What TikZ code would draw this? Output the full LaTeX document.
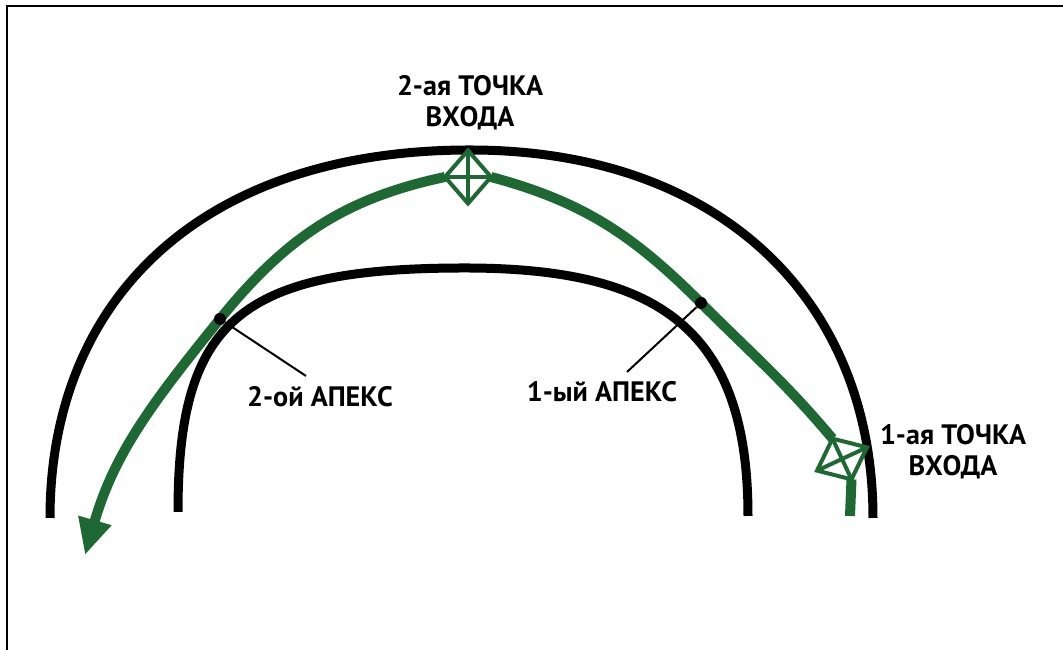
\documentclass[tikz,border=0pt]{standalone}
\usepackage{fontspec}
\setmainfont{PT Sans}
\usetikzlibrary{shapes.geometric,arrows.meta}
\definecolor{linegreen}{RGB}{30,104,52}

\begin{document}
\begin{tikzpicture}[font=\bfseries\fontsize{16}{17.5}\selectfont]
%% the picture is drawn in cm, one pixel of the sketch is 0.02 cm
%% the bends of the green line can be tuned with out=XX and in=XX
\tikzstyle{track}=[line width=0.18cm]
\tikzstyle{racing}=[draw=linegreen,line width=0.2cm]
\tikzstyle{entry}=[diamond,draw=linegreen,line width=0.08cm,inner sep=0pt,outer sep=0pt]
\tikzstyle{cross}=[draw=linegreen,line width=0.08cm]
\tikzstyle{apex}=[circle,fill=black,inner sep=0pt,minimum size=0.24cm]
\tikzstyle{leader}=[line width=0.04cm]
\tikzstyle{caption}=[align=center]
\useasboundingbox (0,0) rectangle (21.26,13);
%% frame, only its top and left sides fall inside the picture
\draw[line width=0.05cm] (0.14,0) -- (0.14,12.88) -- (21.26,12.88);
%% outer edge of the track
\draw[track] (1.0,2.64) .. controls (1.0,7.0) and (4.0,10.0) .. (9.4,10.0)
  .. controls (14.4,10.0) and (17.46,7.0) .. (17.46,2.64);
%% inner edge of the track
\draw[track] (3.56,2.76) .. controls (3.56,6.6) and (4.8,7.64) .. (9.3,7.64)
  .. controls (13.2,7.64) and (14.96,6.4) .. (14.96,2.68);
%% points on the green line
\coordinate (start) at (17.0,2.68);
\coordinate (apex1) at (14.02,6.94);
\coordinate (apex2) at (4.4,6.62);
\coordinate (finish) at (1.7,1.9);
%% entry points
\node[entry,minimum width=1.1cm,minimum height=0.9cm,rotate=25] at (16.84,3.82) (entry1) {};
\draw[cross] (entry1.north) -- (entry1.south) (entry1.east) -- (entry1.west);
\node[entry,minimum width=0.92cm,minimum height=1.06cm] at (9.36,9.46) (entry2) {};
\draw[cross] (entry2.north) -- (entry2.south) (entry2.east) -- (entry2.west);
%% green line
\draw[racing] (start) -- (entry1.south);
\draw[racing] (entry1.north) to[out=130,in=-45] (apex1) to[out=135,in=-15] (entry2.east);
\draw[racing,-{Triangle[length=0.72cm,width=0.64cm]}] (entry2.west) to[out=192,in=51] (apex2)
  to[out=231,in=74] (finish);
%% apexes and their leaders
\node[apex] at (apex1) (dot1) {};
\node[apex] at (apex2) (dot2) {};
\coordinate (lead1) at (12.54,5.56);
\coordinate (lead2) at (6.12,5.48);
\draw[leader] (dot1) -- (lead1);
\draw[leader] (dot2) -- (lead2);
%% labels
\node[caption] at (12.04,5.16) (label1) {1-ый АПЕКС};
\node[caption] at (6.4,5.06) (label2) {2-ой АПЕКС};
\node[caption] at (9.4,10.94) (label3) {2-ая ТОЧКА\\ВХОДА};
\node[caption] at (19.06,3.96) (label4) {1-ая ТОЧКА\\ВХОДА};
\end{tikzpicture}
\end{document}
